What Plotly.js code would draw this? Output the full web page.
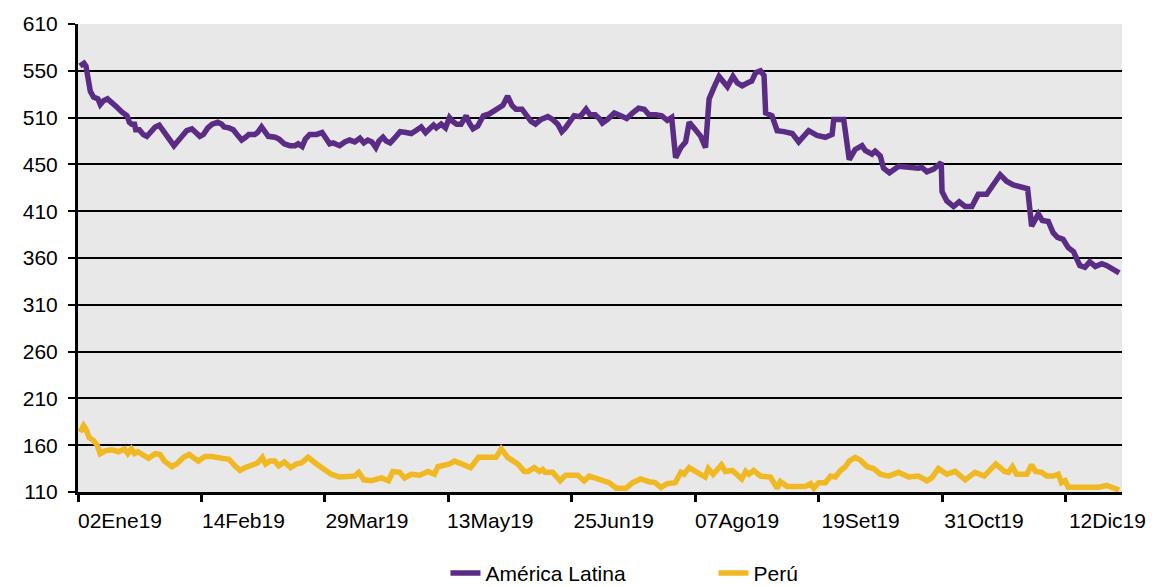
<!DOCTYPE html>
<html>
<head>
<meta charset="utf-8">
<script src="https://cdn.plot.ly/plotly-3.0.1.min.js"></script>
<style>html,body{margin:0;padding:0;background:#fff;}#chart{width:1155px;height:587px;}</style>
</head>
<body>
<div id="chart"></div>
<script>
// Trading-day index (0 = 02Ene19) for each sampled point
const latamDay = [0,1,1.5,2,2.6,3.4,4.5,5.1,5.9,6.9,8,9.3,10.5,11.8,12.4,13,13.7,14,14.9,15.9,16.8,17.9,18.9,19.9,20.7,21.8,23.6,25.4,26.8,28.1,29.1,30.1,31,32.1,33.2,34.6,35.6,36.2,37.4,38.5,39.6,40.6,41.6,42.4,43.9,44.6,45.6,46.3,47.3,49,50,51.3,52.7,54,54.8,55.8,56.6,57.7,59.4,60.8,61.9,62.7,63.6,64.4,65.2,
66.5,67.7,69,70.3,71.3,72.3,73.3,74.3,75.1,76.1,76.9,77.9,79,80.4,81.9,83.2,84.3,85.7,86.8,87.8,88.8,89.5,90.7,91.8,92.8,93.6,94.6,95.7,97,97.8,98.7,99.9,101.3,102.8,104.5,106.2,107.4,108.5,109.5,111,112.4,113.3,114.4,115.8,117.5,118.7,120,121,121.9,122.9,124.1,125.6,127.1,128.1,129.4,130.4,
131.2,132.5,134.2,135.8,137.3,138.8,140.3,141.7,142.9,144.6,146.1,147.5,148.6,149.6,150.9,152.1,153,154.2,155.9,157.1,158,159.2,160.5,162.6,164,165.1,166.3,167.6,168.7,169.7,170.9,171.8,172.2,173.8,175.1,176.8,178.9,180.5,183,185.1,187.2,188.9,189.3,191.8,193.2,194.7,196.4,
197.2,198.9,199.7,201,201.8,203.3,205.6,208.5,210.6,211.4,212.7,214.4,216.3,216.5,217.7,219.4,220.8,222.3,224,225.6,227.7,231.1,232.7,234.4,236.5,238,239,240.7,241.7,243.2,244.4,245.5,246.9,248.2,249.5,251.1,252.4,253.6,255,256.6,257.8,259.5,260.5,261];
const latamVal = [565,568,565,551,538,532,530,524,528,530,525,521,516,512,505,503,503,497,497,492,490,495,500,502,497,489,480,489,496,498,493,490,492,499,503,505,503,500,499,497,491,486,489,492,492,494,500,495,490,489,487,482,480,480,482,479,487,492,492,494,487,482,483,481,480,
484,486,484,488,483,486,484,478,485,489,485,483,488,495,494,493,496,500,494,499,502,499,503,499,510,506,503,503,512,504,498,501,512,514,518,523,533,523,519,519,511,506,503,508,511,508,503,495,499,506,512,511,519,513,513,509,
504,508,515,512,509,515,520,519,513,513,512,507,510,467,478,484,505,499,490,478,530,542,554,543,554,547,544,547,549,558,560,555,515,512,496,495,493,484,496,491,489,492,508,508,465,476,480,
475,471,474,469,456,451,458,456,456,457,452,455,462,431,421,415,420,415,415,428,428,449,442,438,435,434,394,407,400,399,387,382,380,371,367,352,350,356,351,354,352,348,346,344];

const peruDay = [0,0.9,1.5,2.3,3.4,4.3,5.1,6.3,8,9.7,11.2,12,12.9,13.7,14.5,15.9,17.2,18.9,20.1,21.2,23.1,24.3,26,27.4,28.5,29.7,31.4,33.1,35.6,37.4,38.9,40.2,41.4,43.1,44.6,45.8,46.6,47.7,48.9,49.9,51.3,52.9,54.4,55.6,57.3,59.4,61.5,63.1,65.2,67.7,69,70,71.3,73.2,74.4,75.7,77.5,78.6,80.3,81.5,83.2,85.3,87.4,89,89.9,90.9,91.6,92.8,94.1,96.1,98.1,100.1,104.5,105.8,107.4,109.9,111.6,112.6,114.1,115.4,116.2,116.8,118.7,120.6,122,125,126.6,127.9,129.8,
131.4,132.9,134.7,137.1,138.8,140.8,142.9,144.4,145.9,147.5,149.5,150.9,151.7,153,155,157,157.8,159,161.1,162.1,163.8,164.8,166.2,167.2,168,169.2,170.9,173.4,174.5,175.1,175.9,177.6,182.2,183.5,184.3,185.5,187.2,188.5,189.7,191,192.2,193.2,194.7,196,197.7,199.3,201,203.1,205.6,208.1,210.6,212.7,213.9,215.6,217.7,219.8,222.3,224.8,227.1,230,232.2,233.2,234.2,235.2,237.8,239,240,241.5,242.8,244.4,245.7,246.5,247.4,248.2,250.7,255.7,257.8,259.5,261];
const peruVal = [174,181,177,168,165,160,151,154,155,153,156,151,156,151,153,149,146,151,150,143,137,140,147,150,147,143,148,148,146,145,138,133,136,138,141,147,140,143,143,138,142,136,140,141,147,140,133,129,126,126,127,131,123,122,123,125,122,132,131,125,129,128,132,129,137,138,140,140,143,140,136,147,147,156,147,140,132,132,136,132,134,131,131,122,128,128,122,127,124,
122,120,114,114,120,124,121,120,115,119,120,131,129,136,131,126,135,129,139,132,133,129,124,132,129,133,127,126,118,114,121,116,116,119,114,120,120,127,126,133,137,143,147,144,137,135,129,127,131,126,127,122,125,135,129,132,123,131,127,140,132,131,137,129,129,139,132,131,127,127,129,120,122,115,115,115,117,114,112];

const yTickVals = [110,160,210,260,310,360,410,460,510,560,610];
const yTickText = ['110','160','210','260','310','360','410','450','510','550','610'];
const xTickDays = [-0.5,30.5,61.5,92.5,123.5,154.5,185.5,216.5,247.5];
const xTickText = ['02Ene19','14Feb19','29Mar19','13May19','25Jun19','07Ago19','19Set19','31Oct19','12Dic19'];
const seriesNames = ['América Latina','Perú'];
seriesNames[0] = 'América Latina';

const FONT = 'Liberation Sans, Arial, Helvetica, sans-serif';

const traces = [
  {x: latamDay, y: latamVal, name: seriesNames[0], type: 'scatter', mode: 'lines',
   line: {color: '#5B2C85', width: 5.5, shape: 'linear'}},
  {x: peruDay, y: peruVal, name: seriesNames[1], type: 'scatter', mode: 'lines',
   line: {color: '#F0B823', width: 5.5, shape: 'linear'}}
];

const layout = {
  width: 1155, height: 587,
  margin: {l: 78, r: 33, t: 24, b: 95, autoexpand: false},
  paper_bgcolor: '#ffffff',
  plot_bgcolor: '#E8E8E8',
  font: {family: FONT, size: 21, color: '#000'},
  showlegend: true,
  legend: {orientation: 'h', x: 0.352, xanchor: 'left', y: -0.174, yanchor: 'middle',
           font: {family: FONT, size: 21, color: '#000'}, bgcolor: 'rgba(0,0,0,0)', entrywidth: 223},
  xaxis: {
    range: [-0.5, 261.7], showgrid: false, zeroline: false,
    showline: true, linecolor: '#000', linewidth: 3,
    tickmode: 'array', tickvals: xTickDays, ticktext: xTickText,
    ticks: 'outside', ticklen: 7, tickwidth: 3, tickcolor: '#000',
    ticklabelshift: 42, ticklabelstandoff: 1,
    tickfont: {family: FONT, size: 21, color: '#000'}
  },
  yaxis: {
    range: [110, 610], zeroline: false,
    showgrid: true, gridcolor: '#000', gridwidth: 2,
    showline: true, linecolor: '#000', linewidth: 3,
    tickmode: 'array', tickvals: yTickVals, ticktext: yTickText,
    ticks: 'outside', ticklen: 7, tickwidth: 2, tickcolor: '#000',
    ticklabelstandoff: 6,
    tickfont: {family: FONT, size: 21, color: '#000'}
  },
  hovermode: false
};

Plotly.newPlot('chart', traces, layout, {displayModeBar: false, staticPlot: true});
</script>
</body>
</html>
